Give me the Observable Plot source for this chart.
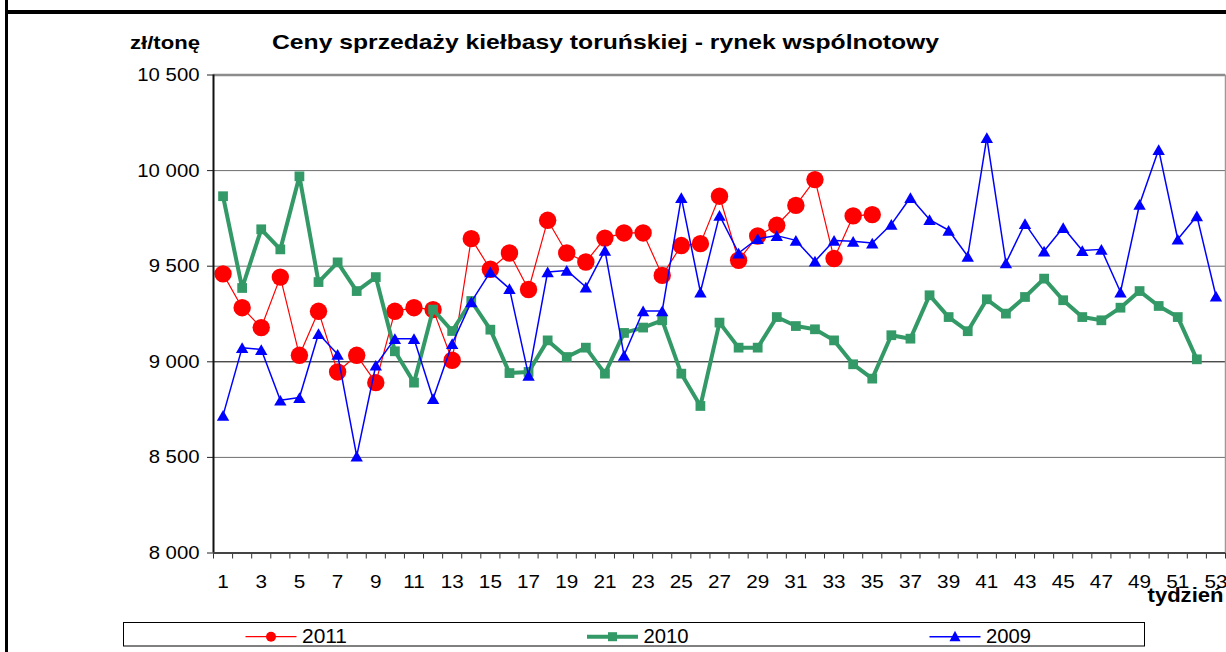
<!DOCTYPE html>
<html>
<head>
<meta charset="utf-8">
<script src="https://cdn.jsdelivr.net/npm/d3@7"></script>
<script src="https://cdn.jsdelivr.net/npm/@observablehq/plot@0.6"></script>
<style>
  html, body { margin: 0; padding: 0; background: #fff; }
  #wrap { position: relative; width: 1226px; height: 652px; overflow: hidden; font-family: "Liberation Sans", Arial, sans-serif; }
  #wrap svg { display: block; }
  #frameLeft { position: absolute; left: 5px; top: 0; width: 3px; height: 652px; background: #000; }
</style>
</head>
<body>
<div id="wrap">
  <svg id="header" width="1226" height="60" style="font-family: 'Liberation Sans', Arial, sans-serif">
    <rect x="5" y="10" width="1221" height="4" fill="#000"></rect>
    <text x="130" y="49" font-weight="bold" font-size="19" textLength="70" lengthAdjust="spacingAndGlyphs">zł/tonę</text>
    <text x="272" y="49" font-weight="bold" font-size="21" textLength="667" lengthAdjust="spacingAndGlyphs">Ceny sprzedaży kiełbasy toruńskiej - rynek wspólnotowy</text>
  </svg>
  <div id="chart"></div>
  <svg id="legend" width="1226" height="40" style="font-family: 'Liberation Sans', Arial, sans-serif"></svg>
  <div id="frameLeft"></div>
</div>
<script>
// ---- data ----
const weeks = d3.range(1, 54);
const y2011 = [9460, 9283, 9179, 9443, 9034, 9264, 8947, 9034, 8891, 9264, 9283, 9273, 9008, 9644, 9484, 9569, 9378, 9740, 9569, 9522, 9647, 9674, 9674, 9452, 9608, 9618, 9866, 9531, 9658, 9714, 9818, 9953, 9540, 9763, 9770];
const y2010 = [9866, 9386, 9693, 9588, 9970, 9417, 9520, 9370, 9443, 9055, 8891, 9273, 9161, 9318, 9168, 8941, 8947, 9112, 9025, 9074, 8938, 9151, 9179, 9217, 8938, 8769, 9205, 9074, 9074, 9234, 9187, 9170, 9112, 8987, 8912, 9139, 9121, 9348, 9234, 9160, 9327, 9252, 9339, 9435, 9322, 9234, 9217, 9283, 9370, 9292, 9234, 9013];
const y2009 = [8720, 9074, 9064, 8799, 8813, 9147, 9039, 8507, 8982, 9121, 9121, 8807, 9095, 9313, 9470, 9383, 8929, 9470, 9478, 9391, 9583, 9034, 9266, 9266, 9859, 9365, 9766, 9569, 9644, 9660, 9635, 9526, 9635, 9630, 9621, 9719, 9859, 9744, 9688, 9552, 10173, 9517, 9723, 9579, 9702, 9582, 9588, 9365, 9824, 10110, 9641, 9763, 9344];
const yTicks = [8000, 8500, 9000, 9500, 10000, 10500];
const xTickLabels = weeks.filter(w => w % 2 === 1);
const seriesNames = ["2011", "2010", "2009"];
const seriesColors = ["#ff0000", "#339966", "#0000ff"];

const toRows = vals => vals.map((v, i) => ({week: weeks[i], value: v}));
const d2011 = toRows(y2011), d2010 = toRows(y2010), d2009 = toRows(y2009);

const fmt = d => d3.format(",")(d).replace(/,/g, " ");

const chart = Plot.plot({
  width: 1226,
  height: 552,
  marginLeft: 213,
  marginRight: 1,
  marginTop: 14.5,
  marginBottom: 59.5,
  style: {fontFamily: "'Liberation Sans', Arial, sans-serif", color: "#000", background: "transparent"},
  x: {type: "linear", domain: [0.5, 53.5]},
  y: {domain: [8000, 10500]},
  marks: [
    Plot.ruleY([8500, 9500, 10000], {stroke: "#6e6e6e", strokeWidth: 1}),
    Plot.ruleY([9000], {stroke: "#000", strokeWidth: 1}),
    Plot.ruleY([10500], {stroke: "#8c8c8c", strokeWidth: 2.5}),
    Plot.ruleX([53.5], {stroke: "#9a9a9a", strokeWidth: 1.5}),
    Plot.axisY({ticks: yTicks, tickFormat: fmt, tickSize: 6, tickPadding: 8, fontSize: 19, label: null, stroke: "#222"}),
    Plot.axisX({ticks: d3.range(0.5, 54, 1), tickSize: 6, tickFormat: () => "", label: null, stroke: "#333"}),
    Plot.axisX({ticks: xTickLabels, tickSize: 0, tickPadding: 21.5, fontSize: 18.5, label: null}),
    Plot.text(["tydzień"], {frameAnchor: "bottom-right", textAnchor: "end", lineAnchor: "bottom", dx: -2, dy: 48.5, fontWeight: "bold", fontSize: 21}),
    Plot.line(d2011, {x: "week", y: "value", stroke: seriesColors[0], strokeWidth: 1.2}),
    Plot.dot(d2011, {x: "week", y: "value", r: 8.7, fill: seriesColors[0], symbol: "circle"}),
    Plot.line(d2010, {x: "week", y: "value", stroke: seriesColors[1], strokeWidth: 4}),
    Plot.dot(d2010, {x: "week", y: "value", r: 5.5, fill: seriesColors[1], symbol: "square"}),
    Plot.line(d2009, {x: "week", y: "value", stroke: seriesColors[2], strokeWidth: 1.5}),
    Plot.dot(d2009, {x: "week", y: "value", r: 4.6, fill: seriesColors[2], symbol: "triangle", dy: 1.8}),
    Plot.ruleX([0.5], {stroke: "#111", strokeWidth: 2}),
    Plot.ruleY([8000], {stroke: "#444", strokeWidth: 2})
  ]
});
document.getElementById("chart").appendChild(chart);

// widen text horizontally like the reference rendering
function stretch(selector, f) {
  chart.querySelectorAll(selector).forEach(t => {
    const L = t.getComputedTextLength();
    if (L > 0) { t.setAttribute("textLength", L * f); t.setAttribute("lengthAdjust", "spacingAndGlyphs"); }
  });
}
stretch('g[aria-label="y-axis tick label"] text', 1.07);
stretch('g[aria-label="x-axis tick label"] text', 1.12);
stretch('g[aria-label="text"] text', 1.05);

// legend
const lg = d3.select("#legend");
lg.append("rect").attr("x", 123.5).attr("y", 10.5).attr("width", 1021).attr("height", 23.5)
  .attr("fill", "#fff").attr("stroke", "#000").attr("stroke-width", 1);
const legendX = [245.5, 587, 929.5];
const ly = 24.7;
seriesNames.forEach((name, i) => {
  const x0 = legendX[i], c = seriesColors[i];
  lg.append("line").attr("x1", x0).attr("x2", x0 + 51).attr("y1", ly).attr("y2", ly)
    .attr("stroke", c).attr("stroke-width", i === 1 ? 4 : (i === 0 ? 1.2 : 1.5));
  const cx = x0 + 25.5;
  if (i === 0) lg.append("circle").attr("cx", cx).attr("cy", ly).attr("r", 5).attr("fill", c);
  if (i === 1) lg.append("rect").attr("x", cx - 4.5).attr("y", ly - 4.5).attr("width", 9).attr("height", 9).attr("fill", c);
  if (i === 2) lg.append("path").attr("d", `M${cx},${ly-6}L${cx+5.5},${ly+4.5}L${cx-5.5},${ly+4.5}Z`).attr("fill", c);
  lg.append("text").attr("x", x0 + 56.5).attr("y", 31.3).attr("font-size", 20)
    .attr("textLength", 45).attr("lengthAdjust", "spacingAndGlyphs").text(name);
});
</script>
</body>
</html>
